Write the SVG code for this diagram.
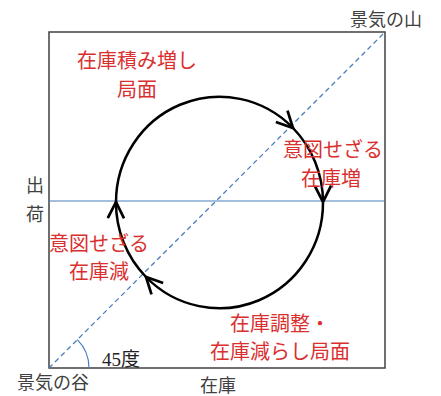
<svg xmlns="http://www.w3.org/2000/svg" width="441" height="396" viewBox="0 0 441 396">
<style>
.lbl{font-family:"Noto Sans CJK JP",sans-serif;font-size:20px;fill:#d9302f;text-anchor:middle}
.ax{font-family:"Noto Sans CJK JP",sans-serif;font-size:18px;fill:#404040}
.num{font-family:"Liberation Serif","Noto Sans CJK JP",serif;font-size:19px;fill:#222}
</style>
<defs>
<marker id="chev" markerUnits="userSpaceOnUse" markerWidth="20" markerHeight="20" refX="0" refY="0" viewBox="-14 -8 16 16" orient="auto" overflow="visible">
<path d="M -13 -6.5 L 0 0 L -13 6.5" fill="none" stroke="#000" stroke-width="2.2"/>
</marker>
</defs>
<rect width="441" height="396" fill="#fff"/>
<g id="frame">
<rect x="49" y="32" width="336" height="336" fill="none" stroke="#404040" stroke-width="1.5"/>
</g>
<g id="connectors">
<line x1="49" y1="201" x2="385" y2="201" stroke="#4a7ebb" stroke-width="1.2"/>
<line x1="49" y1="368" x2="385" y2="32" stroke="#4a7ebb" stroke-width="1.3" stroke-dasharray="5,3.5"/>
<path d="M 89 368 A 40 40 0 0 0 77.3 339.7" fill="none" stroke="#4a7ebb" stroke-width="1.2"/>
<g fill="none" stroke="#000" stroke-width="2.5" marker-end="url(#chev)">
<path d="M 116 202.5 A 103.5 105.5 0 0 1 293 128"/>
<path d="M 293 128 A 103.5 105.5 0 0 1 323 202"/>
<path d="M 323 202.5 A 103.5 105.5 0 0 1 146 277"/>
<path d="M 146 277 A 103.5 105.5 0 0 1 116 202"/>
</g>
</g>
<g id="labels">
<text class="lbl" x="137" y="68">在庫積み増し</text>
<text class="lbl" x="137" y="97">局面</text>
<text class="lbl" x="333" y="157">意図せざる</text>
<text class="lbl" x="331" y="186">在庫増</text>
<text class="lbl" x="99" y="251">意図せざる</text>
<text class="lbl" x="99" y="279">在庫減</text>
<text class="lbl" x="280" y="331">在庫調整・</text>
<text class="lbl" x="280" y="359">在庫減らし局面</text>
</g>
<g id="axis-labels">
<text class="ax" x="350" y="26">景気の山</text>
<text class="ax" x="26" y="192">出</text>
<text class="ax" x="26" y="221">荷</text>
<text class="ax" x="17" y="389">景気の谷</text>
<text class="ax" x="200" y="392">在庫</text>
<text class="num" x="102" y="366">45度</text>
</g>
</svg>
